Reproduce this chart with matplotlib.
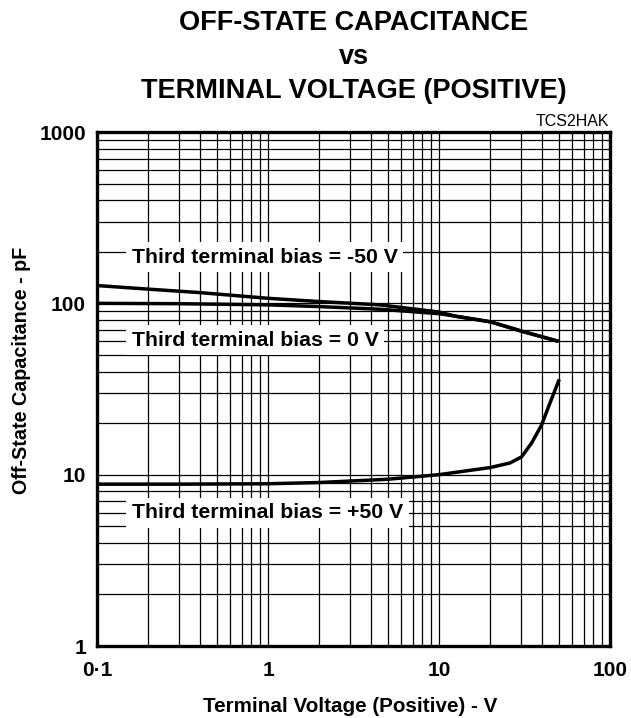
import matplotlib
matplotlib.use("Agg")
import matplotlib.pyplot as plt
from matplotlib.ticker import LogLocator, FixedLocator, FixedFormatter, NullFormatter
import numpy as np

plt.rcParams['font.family'] = ['Liberation Sans', 'DejaVu Sans']

# Data (terminal voltage V, capacitance pF)
v_m50 = [0.1, 0.2, 0.4, 1, 2, 4.5, 10, 12.6, 20, 31, 50]
c_m50 = [127, 121, 115.5, 107, 102.4, 98, 89, 84, 78, 68.4, 60]

v_0 = [0.1, 0.3, 1, 2, 4.5, 10, 12.6, 20, 31, 50]
c_0 = [100, 99.5, 98, 95.7, 92.4, 87, 84, 78, 68.4, 60]

v_p50 = [0.1, 0.3, 1, 2, 5, 10, 15.2, 19.9, 26, 30.4, 34.8, 39.8, 44.5, 50.5]
c_p50 = [8.8, 8.8, 8.85, 9.0, 9.4, 10.0, 10.6, 11.0, 11.7, 12.7, 15.3, 19.5, 26.1, 36]

x_ticks = [0.1, 1, 10, 100]
x_ticklabels = ["0·1", "1", "10", "100"]
y_ticks = [1, 10, 100, 1000]
y_ticklabels = ["1", "10", "100", "1000"]

labels = ["Third terminal bias = -50 V", "Third terminal bias = 0 V", "Third terminal bias = +50 V"]
label_pos = [(0.16, 186), (0.16, 61), (0.16, 6.0)]

fig = plt.figure(figsize=(6.31, 7.18), dpi=100)
ax = fig.add_axes([97/631, 72/718, 513/631, 514/718])
ax.set_xscale('log')
ax.set_yscale('log')
ax.set_xlim(0.1, 100)
ax.set_ylim(1, 1000)

ax.xaxis.set_major_locator(FixedLocator(x_ticks))
ax.xaxis.set_major_formatter(FixedFormatter(x_ticklabels))
ax.yaxis.set_major_locator(FixedLocator(y_ticks))
ax.yaxis.set_major_formatter(FixedFormatter(y_ticklabels))
ax.xaxis.set_minor_locator(LogLocator(base=10, subs=np.arange(2, 10), numticks=20))
ax.yaxis.set_minor_locator(LogLocator(base=10, subs=np.arange(2, 10), numticks=20))
ax.xaxis.set_minor_formatter(NullFormatter())
ax.yaxis.set_minor_formatter(NullFormatter())
ax.tick_params(which='both', length=0)
ax.tick_params(axis='x', pad=11, labelsize=15)
ax.tick_params(axis='y', pad=8, labelsize=15)
for t in ax.get_xticklabels() + ax.get_yticklabels():
    t.set_fontweight('bold')

ax.grid(True, which='both', color='black', linewidth=0.9)
for s in ax.spines.values():
    s.set_linewidth(2.4)
    s.set_zorder(5)

ax.plot(v_m50, c_m50, color='black', linewidth=2.5, zorder=3, solid_capstyle='butt', solid_joinstyle='round')
ax.plot(v_0, c_0, color='black', linewidth=2.5, zorder=3, solid_capstyle='butt', solid_joinstyle='round')
ax.plot(v_p50, c_p50, color='black', linewidth=2.5, zorder=3, solid_capstyle='butt', solid_joinstyle='round')

for txt, (x, y) in zip(labels, label_pos):
    ax.text(x, y, txt, fontsize=15.3, fontweight='bold', ha='left', va='center', zorder=4,
            bbox=dict(facecolor='white', edgecolor='none', pad=4))

fig.text(350/631, 1 - 707/718, "Terminal Voltage (Positive) - V", ha='center', va='center',
         fontsize=14.9, fontweight='bold')
fig.text(22/631, 1 - 370/718, "Off-State Capacitance - pF", ha='center', va='center',
         rotation=90, fontsize=14.2, fontweight='bold')

fig.text(353.5/631, 1 - 23/718, "OFF-STATE CAPACITANCE", ha='center', va='center', fontsize=19.5, fontweight='bold')
fig.text(353.5/631, 1 - 57/718, "vs", ha='center', va='center', fontsize=19.5, fontweight='bold')
fig.text(353.5/631, 1 - 91/718, "TERMINAL VOLTAGE (POSITIVE)", ha='center', va='center', fontsize=19.5, fontweight='bold')
fig.text(609/631, 1 - 122/718, "TCS2HAK", ha='right', va='center', fontsize=11.5)

fig.savefig("out.png", dpi=100)
